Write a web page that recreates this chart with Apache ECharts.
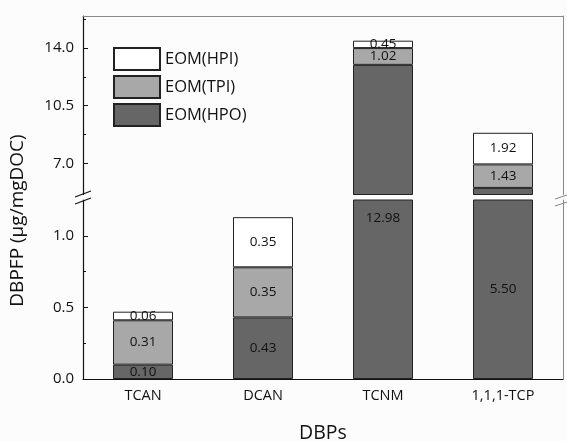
<!DOCTYPE html>
<html>
<head>
<meta charset="utf-8">
<script src="https://cdn.jsdelivr.net/npm/echarts@6/dist/echarts.min.js"></script>
<style>
html, body { margin: 0; background: #fcfcfc; }
#main { width: 567px; height: 441px; }
</style>
</head>
<body>
<div id="main"></div>
<script>
// data
var categories = ['TCAN', 'DCAN', 'TCNM', '1,1,1-TCP'];
var hpo = [0.10, 0.43, 12.98, 5.50];
var tpi = [0.31, 0.35, 1.02, 1.43];
var hpi = [0.06, 0.35, 0.45, 1.92];

// broken y axis: lower and upper panel
var lowRange = [0, 1.25];
var highRange = [5.1, 15.95];
var lowTicks = [0, 0.5, 1.0];
var lowMinor = [0.25, 0.75];
var highTicks = [7.0, 10.5, 14.0];
var highMinor = [8.75, 12.25, 15.75];

var names = ['EOM(HPO)', 'EOM(TPI)', 'EOM(HPI)'];
var colors = ['#666666', '#a8a8a8', '#ffffff'];
var groups = [hpo, tpi, hpi];

var fontFam = 'Open Sans';

// keep only the segments that reach into a panel
function panelData(idx, lower) {
    return groups[idx].map(function (v, i) {
        var base = 0;
        for (var k = 0; k < idx; k++) base += groups[k][i];
        if (lower) return base < lowRange[1] ? v : '-';
        return base + v > highRange[0] ? v : '-';
    });
}

function labelFor(idx, lower) {
    return function (p) {
        if (!lower && idx === 0) return '';
        return Number(p.value).toFixed(2);
    };
}

var series = [];
[true, false].forEach(function (lower) {
    groups.forEach(function (g, idx) {
        var vals = panelData(idx, lower);
        var data = vals.map(function (v, i) {
            var item = { value: v };
            if (lower && idx === 0 && i === 2) {
                item.label = { position: 'insideTop', distance: 12 };
            }
            return item;
        });
        series.push({
            name: names[idx],
            type: 'bar',
            stack: lower ? 'low' : 'high',
            xAxisIndex: lower ? 0 : 2,
            yAxisIndex: lower ? 0 : 3,
            barWidth: '50%',
            clip: true,
            itemStyle: { color: colors[idx], borderColor: '#222', borderWidth: 1 },
            label: {
                show: true,
                position: 'inside',
                color: '#111',
                fontSize: 13.5,
                fontFamily: fontFam,
                formatter: labelFor(idx, lower)
            },
            data: data
        });
    });
});

var myChart = echarts.init(document.getElementById('main'));
var option = {
    backgroundColor: '#fcfcfc',
    animation: false,
    textStyle: { fontFamily: fontFam },
    legend: {
        orient: 'vertical',
        left: 108,
        top: 42,
        itemWidth: 46,
        itemHeight: 22,
        itemGap: 4,
        icon: 'rect',
        data: ['EOM(HPI)', 'EOM(TPI)', 'EOM(HPO)'],
        textStyle: { fontSize: 16.5, color: '#111', fontFamily: fontFam }
    },
    grid: [
        { left: 83, right: 4, top: 200, bottom: 62, outerBoundsMode: 'none', containLabel: false },
        { left: 83, right: 4, top: 16, bottom: 246.5, outerBoundsMode: 'none', containLabel: false }
    ],
    xAxis: [
        {
            type: 'category', gridIndex: 0, data: categories,
            axisLine: { lineStyle: { color: '#111', width: 1.2 } },
            axisTick: { inside: true, alignWithLabel: true, length: 5, lineStyle: { color: '#111' } },
            axisLabel: { fontSize: 14.5, color: '#111', margin: 9, fontFamily: fontFam },
            name: 'DBPs', nameLocation: 'middle', nameGap: 44,
            nameTextStyle: { fontSize: 19.5, color: '#111', fontFamily: fontFam }
        },
        {
            type: 'category', gridIndex: 0, data: categories,
            axisLine: { show: false },
            axisTick: { inside: true, length: 3, lineStyle: { color: '#111' } },
            axisLabel: { show: false }
        },
        {
            type: 'category', gridIndex: 1, data: categories, position: 'top',
            axisLine: { lineStyle: { color: '#888', width: 1 } },
            axisTick: { show: false },
            axisLabel: { show: false }
        }
    ],
    yAxis: [
        {
            type: 'value', gridIndex: 0, position: 'left', min: lowRange[0], max: lowRange[1],
            axisLine: { show: true, lineStyle: { color: '#111', width: 1.2 } },
            axisTick: { show: true, inside: true, length: 5, customValues: lowTicks, lineStyle: { color: '#111' } },
            axisLabel: {
                customValues: lowTicks, fontSize: 15, color: '#111', margin: 9, fontFamily: fontFam,
                formatter: function (v) { return v.toFixed(1); }
            },
            splitLine: { show: false }
        },
        {
            type: 'value', gridIndex: 0, position: 'left', min: lowRange[0], max: lowRange[1],
            axisLine: { show: false },
            axisTick: { show: true, inside: true, length: 3, customValues: lowMinor, lineStyle: { color: '#111' } },
            axisLabel: { show: false },
            splitLine: { show: false }
        },
        {
            type: 'value', gridIndex: 0, position: 'right', min: lowRange[0], max: lowRange[1],
            axisLine: { show: true, lineStyle: { color: '#888', width: 1 } },
            axisTick: { show: false },
            axisLabel: { show: false },
            splitLine: { show: false }
        },
        {
            type: 'value', gridIndex: 1, position: 'left', min: highRange[0], max: highRange[1],
            axisLine: { show: true, lineStyle: { color: '#111', width: 1.2 } },
            axisTick: { show: true, inside: true, length: 5, customValues: highTicks, lineStyle: { color: '#111' } },
            axisLabel: {
                customValues: highTicks, fontSize: 15, color: '#111', margin: 9, fontFamily: fontFam,
                formatter: function (v) { return v.toFixed(1); }
            },
            splitLine: { show: false }
        },
        {
            type: 'value', gridIndex: 1, position: 'left', min: highRange[0], max: highRange[1],
            axisLine: { show: false },
            axisTick: { show: true, inside: true, length: 3, customValues: highMinor, lineStyle: { color: '#111' } },
            axisLabel: { show: false },
            splitLine: { show: false }
        },
        {
            type: 'value', gridIndex: 1, position: 'right', min: highRange[0], max: highRange[1],
            axisLine: { show: true, lineStyle: { color: '#888', width: 1 } },
            axisTick: { show: false },
            axisLabel: { show: false },
            splitLine: { show: false }
        }
    ],
    graphic: [
        {
            type: 'text', left: 8, top: 'middle', rotation: Math.PI / 2,
            style: { text: 'DBPFP (μg/mgDOC)', fontSize: 19, fill: '#111', fontFamily: fontFam }
        },
        // axis break marks
        { type: 'line', shape: { x1: 75, y1: 197, x2: 91, y2: 191 }, style: { stroke: '#111', lineWidth: 1.2 } },
        { type: 'line', shape: { x1: 75, y1: 204, x2: 91, y2: 198 }, style: { stroke: '#111', lineWidth: 1.2 } },
        { type: 'line', shape: { x1: 555, y1: 199, x2: 567, y2: 195 }, style: { stroke: '#888', lineWidth: 1 } },
        { type: 'line', shape: { x1: 555, y1: 206, x2: 567, y2: 202 }, style: { stroke: '#888', lineWidth: 1 } }
    ],
    series: series
};
myChart.setOption(option);
</script>
</body>
</html>
